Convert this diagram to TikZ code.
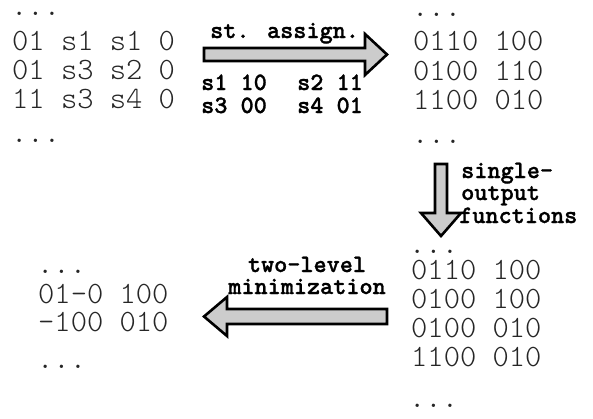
\documentclass[tikz,border=0pt]{standalone}
\usepackage{fontspec}
\newfontfamily\lblfont{lmmonolt10-bold.otf}[FakeBold=1.2]
\begin{document}
\begin{tikzpicture}[x=1pt,y=-1pt,
  datatext/.style={anchor=base west,inner sep=0pt,text=black!85,
    font=\fontsize{31}{31}\ttfamily\fontseries{l}\selectfont},
  labeltext/.style={anchor=base west,inner sep=0pt,text=black,
    font=\fontsize{25}{25}\lblfont},
  fatarrow/.style={draw=black,line width=2.6pt,fill=black!20,line join=miter,miter limit=10}]
\useasboundingbox (0,0) rectangle (593,418);
% top-left block
\node[datatext] (tl0) at (11,15) {...};
\node[datatext] (tl1) at (12,50) {01 s1 s1 0};
\node[datatext] (tl2) at (12,79) {01 s3 s2 0};
\node[datatext] (tl3) at (12,108) {11 s3 s4 0};
\node[datatext] (tl4) at (11,142) {...};
% top-right block
\node[datatext] (tr0) at (412,16) {...};
\node[datatext] (tr1) at (413,50) {0110 100};
\node[datatext] (tr2) at (413,80) {0100 110};
\node[datatext] (tr3) at (413,109) {1100 010};
\node[datatext] (tr4) at (412,143) {...};
% bottom-right block
\node[datatext] (br0) at (409,253) {...};
\node[datatext] (br1) at (411,279) {0110 100};
\node[datatext] (br2) at (411,308) {0100 100};
\node[datatext] (br3) at (411,337) {0100 010};
\node[datatext] (br4) at (411,366) {1100 010};
\node[datatext] (br5) at (409,407) {...};
% bottom-left block
\node[datatext] (bl0) at (37,273) {...};
\node[datatext] (bl1) at (38,303) {01-0 100};
\node[datatext] (bl2) at (38,331) {-100 010};
\node[datatext] (bl3) at (37,368) {...};
% top arrow
\draw[fatarrow] (204,48) -- (365,48) -- (365,34) -- (387,54.5) -- (365,75) -- (365,61) -- (204,61) -- cycle;
\node[labeltext] (lab1) at (210,38) {st. assign.};
\node[labeltext] (s1) at (201,90) {s1 10};
\node[labeltext] (s2) at (297,90) {s2 11};
\node[labeltext] (s3) at (201,113) {s3 00};
\node[labeltext] (s4) at (297,113) {s4 01};
% down arrow
\draw[fatarrow] (435,164) -- (447,164) -- (447,213) -- (461,213) -- (441,236) -- (421,213) -- (435,213) -- cycle;
\node[labeltext] (lab2a) at (461,178) {single-};
\node[labeltext] (lab2b) at (461,200) {output};
\node[labeltext] (lab2c) at (459,223) {functions};
% left arrow
\draw[fatarrow] (387,309) -- (227,309) -- (227,297) -- (204,316.5) -- (227,336) -- (227,324) -- (387,324) -- cycle;
\node[labeltext,anchor=base] (lab3a) at (307,272) {two-level};
\node[labeltext,anchor=base] (lab3b) at (307,294) {minimization};
\end{tikzpicture}
\end{document}
